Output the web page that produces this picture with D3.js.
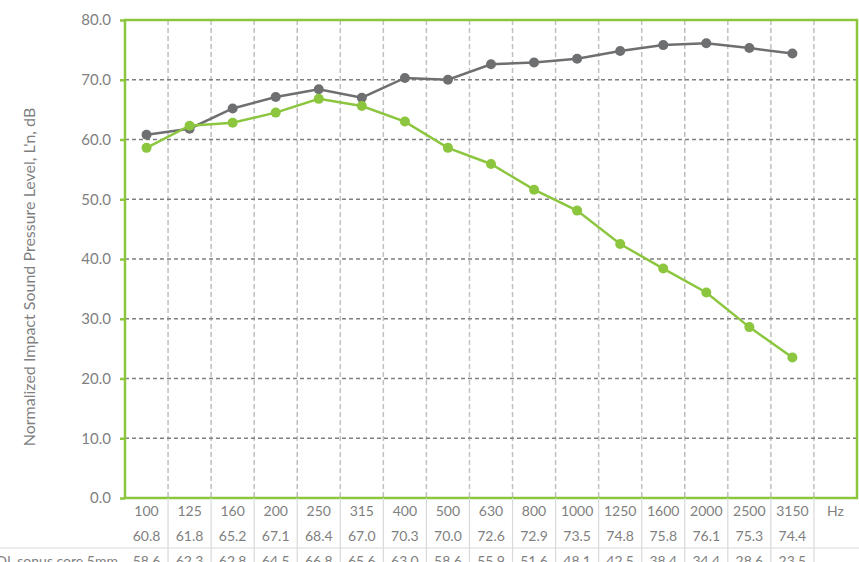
<!DOCTYPE html>
<html>
<head>
<meta charset="utf-8">
<script src="https://cdn.jsdelivr.net/npm/d3@7"></script>
<style>
  body { margin: 0; background: #fff; }
  svg { display: block; font-family: Lato, 'Open Sans', sans-serif; }
</style>
</head>
<body>
<svg id="chart" width="859" height="562"></svg>
<script>
'use strict';

// frequency bands, the last column is only the unit
const bands = ['100', '125', '160', '200', '250', '315', '400', '500', '630', '800', '1000', '1250', '1600', '2000', '2500', '3150', 'Hz'];
const freqs = bands.slice(0, 16);

const referenceName = '';
const referenceValues = [60.8, 61.8, 65.2, 67.1, 68.4, 67.0, 70.3, 70.0, 72.6, 72.9, 73.5, 74.8, 75.8, 76.1, 75.3, 74.4];

const coreName = 'OL sonus core 5mm';
const coreValues = [58.6, 62.3, 62.8, 64.5, 66.8, 65.6, 63.0, 58.6, 55.9, 51.6, 48.1, 42.5, 38.4, 34.4, 28.6, 23.5];

const yTicks = [0, 10, 20, 30, 40, 50, 60, 70, 80];
const yTitle = "Normalized Impact Sound Pressure Level, L'n, dB";

const series = [
  { name: referenceName, values: referenceValues, color: '#6e6f71' },
  { name: coreName, values: coreValues, color: '#8cc63f' }
];

const green = '#8cc63f';
const textGrey = '#7f7f7f';
const margin = { top: 20, right: 2, bottom: 64, left: 125 };
const width = 859, height = 562;

const svg = d3.select('#chart');

const x = d3.scaleBand()
  .domain(bands)
  .range([margin.left, width - margin.right]);

const y = d3.scaleLinear()
  .domain([0, 80])
  .range([height - margin.bottom, margin.top]);

const plotBottom = y(0);
const plotTop = y(80);

//Vertical light dashed grid between the bands
svg.append('g')
  .selectAll('line')
  .data(bands.slice(1))
  .join('line')
  .attr('x1', d => x(d))
  .attr('x2', d => x(d))
  .attr('y1', plotTop)
  .attr('y2', plotBottom)
  .attr('stroke', '#bfbfbf')
  .attr('stroke-width', 1.5)
  .attr('stroke-dasharray', '5,3');

//Horizontal dark dashed grid
svg.append('g')
  .selectAll('line')
  .data(yTicks.filter(t => t > 0 && t < 80))
  .join('line')
  .attr('x1', margin.left)
  .attr('x2', width - margin.right)
  .attr('y1', d => y(d))
  .attr('y2', d => y(d))
  .attr('stroke', '#7f7f7f')
  .attr('stroke-width', 1.5)
  .attr('stroke-dasharray', '4,3');

//Y axis
const yAxis = svg.append('g')
  .attr('transform', `translate(${margin.left},0)`)
  .call(d3.axisLeft(y).tickValues(yTicks).tickFormat(d3.format('.1f')).tickSize(5).tickPadding(9));
yAxis.select('.domain').remove();
yAxis.selectAll('.tick line').attr('stroke', green).attr('stroke-width', 2.5);
yAxis.selectAll('.tick text')
  .attr('fill', textGrey)
  .style('font-size', '15px')
  .style('font-family', 'Lato, sans-serif');

svg.append('text')
  .attr('transform', `translate(35,${(plotTop + plotBottom) / 2 + 18}) rotate(-90)`)
  .attr('text-anchor', 'middle')
  .attr('fill', textGrey)
  .style('font-size', '16px')
  .text(yTitle);

//Plot frame
svg.append('rect')
  .attr('x', margin.left)
  .attr('y', plotTop)
  .attr('width', width - margin.right - margin.left)
  .attr('height', plotBottom - plotTop)
  .attr('fill', 'none')
  .attr('stroke', green)
  .attr('stroke-width', 2.5);

//Lines and markers
const line = d3.line()
  .x((d, i) => x(freqs[i]) + x.bandwidth() / 2)
  .y(d => y(d));

series.forEach(s => {
  svg.append('path')
    .datum(s.values)
    .attr('d', line)
    .attr('fill', 'none')
    .attr('stroke', s.color)
    .attr('stroke-width', 2.5);

  svg.append('g')
    .selectAll('circle')
    .data(s.values)
    .join('circle')
    .attr('cx', (d, i) => x(freqs[i]) + x.bandwidth() / 2)
    .attr('cy', d => y(d))
    .attr('r', 5)
    .attr('fill', s.color);
});

//Data table under the plot (last row is clipped by the window, as in the source)
const rowH = 25;
const table = svg.append('g');
const rows = [bands].concat(series.map(s => s.values.map(v => v.toFixed(1))));
const rowLabels = [''].concat(series.map(s => s.name));

table.selectAll('line.sep')
  .data(bands.slice(1))
  .join('line')
  .attr('class', 'sep')
  .attr('x1', d => x(d))
  .attr('x2', d => x(d))
  .attr('y1', plotBottom)
  .attr('y2', height)
  .attr('stroke', '#d9d9d9')
  .attr('stroke-width', 1.2);

table.append('line')
  .attr('x1', 0)
  .attr('x2', width)
  .attr('y1', plotBottom + rowH * 2)
  .attr('y2', plotBottom + rowH * 2)
  .attr('stroke', '#d9d9d9')
  .attr('stroke-width', 1.2);

rows.forEach((row, r) => {
  const cy = plotBottom + rowH * r + 13;
  table.append('g')
    .selectAll('text')
    .data(row)
    .join('text')
    .attr('x', (d, i) => x(bands[i]) + x.bandwidth() / 2)
    .attr('y', cy)
    .attr('dy', '0.35em')
    .attr('text-anchor', 'middle')
    .attr('fill', textGrey)
    .style('font-size', '14px')
    .text(d => d);

  table.append('text')
    .attr('x', margin.left - 7)
    .attr('y', cy)
    .attr('dy', '0.35em')
    .attr('text-anchor', 'end')
    .attr('fill', textGrey)
    .style('font-size', '14px')
    .text(rowLabels[r]);
});
</script>
</body>
</html>
